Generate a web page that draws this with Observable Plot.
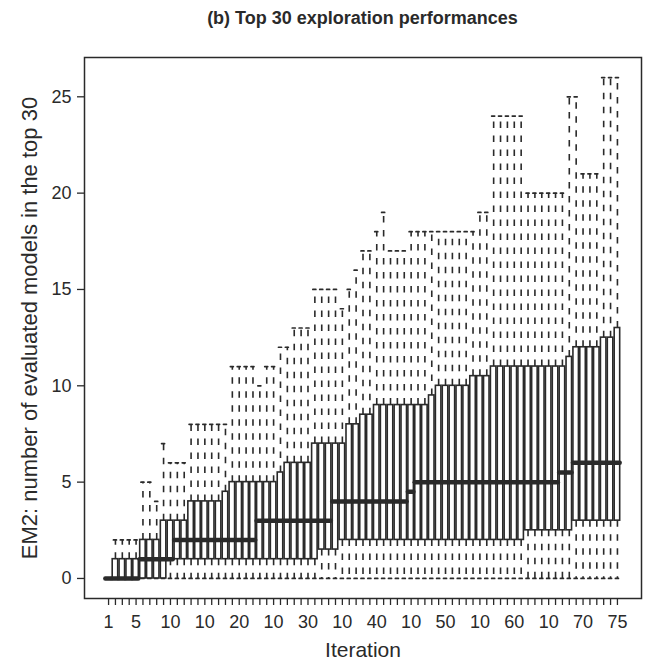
<!DOCTYPE html>
<html>
<head>
<meta charset="utf-8">
<script src="https://cdn.jsdelivr.net/npm/d3@7"></script>
<script src="https://cdn.jsdelivr.net/npm/@observablehq/plot@0.6"></script>
<style>
  html, body { margin: 0; padding: 0; background: #fff; }
  #chart { width: 646px; height: 665px; font-family: "Liberation Sans", Arial, Helvetica, sans-serif; color: #2a2a2a; }
  #title { box-sizing: border-box; height: 40px; padding: 0 5px 0 84px; text-align: center;
           font-weight: bold; font-size: 18px; line-height: 36px; }
  #chart svg { display: block; }
</style>
</head>
<body>
<div id="chart"><div id="title">(b) Top 30 exploration performances</div></div>
<script>
// Iterations 1..75 of the exploration run
const iterations = [
  1, 2, 3, 4, 5, 6, 7, 8, 9, 10, 11, 12, 13, 14, 15, 16, 17, 18, 19, 20, 21, 22, 23, 24, 25,
  26, 27, 28, 29, 30, 31, 32, 33, 34, 35, 36, 37, 38, 39, 40, 41, 42, 43, 44, 45, 46, 47, 48, 49, 50,
  51, 52, 53, 54, 55, 56, 57, 58, 59, 60, 61, 62, 63, 64, 65, 66, 67, 68, 69, 70, 71, 72, 73, 74, 75
];

// Five-number summaries per iteration (EM2: models in the top 30)
const lowerWhisker = [
  0, 0, 0, 0, 0, 0, 0, 0, 0, 0, 0, 0, 0, 0, 0, 0, 0, 0, 0, 0, 0, 0, 0, 0, 0,
  0, 0, 0, 0, 0, 0, 0, 0, 0, 0, 0, 0, 0, 0, 0, 0, 0, 0, 0, 0, 0, 0, 0, 0, 0,
  0, 0, 0, 0, 0, 0, 0, 0, 0, 0, 0, 0, 0, 0, 0, 0, 0, 0, 0, 0, 0, 0, 0, 0, 0
];
const lowerQuartile = [
  0, 0, 0, 0, 0, 0, 0, 0, 0, 1, 1, 1, 1, 1, 1, 1, 1, 1, 1, 1, 1, 1, 1, 1, 1,
  1, 1, 1, 1, 1, 1, 1.5, 1.5, 1.5, 2, 2, 2, 2, 2, 2, 2, 2, 2, 2, 2, 2, 2, 2, 2, 2,
  2, 2, 2, 2, 2, 2, 2, 2, 2, 2, 2, 2.5, 2.5, 2.5, 2.5, 2.5, 2.5, 2.5, 3, 3, 3, 3, 3, 3, 3
];
const medians = [
  0, 0, 0, 0, 0, 1, 1, 1, 1, 1, 2, 2, 2, 2, 2, 2, 2, 2, 2, 2, 2, 2, 3, 3, 3,
  3, 3, 3, 3, 3, 3, 3, 3, 4, 4, 4, 4, 4, 4, 4, 4, 4, 4, 4, 4.5, 5, 5, 5, 5, 5,
  5, 5, 5, 5, 5, 5, 5, 5, 5, 5, 5, 5, 5, 5, 5, 5, 5.5, 5.5, 6, 6, 6, 6, 6, 6, 6
];
const upperQuartile = [
  0, 1, 1, 1, 1, 2, 2, 2, 3, 3, 3, 3, 4, 4, 4, 4, 4, 4.5, 5, 5, 5, 5, 5, 5, 5,
  5.5, 6, 6, 6, 6, 7, 7, 7, 7, 7, 8, 8, 8.5, 8.5, 9, 9, 9, 9, 9, 9, 9, 9, 9.5, 10, 10,
  10, 10, 10, 10.5, 10.5, 10.5, 11, 11, 11, 11, 11, 11, 11, 11, 11, 11, 11, 11.5, 12, 12, 12, 12, 12.5, 12.5, 13
];
const upperWhisker = [
  0, 2, 2, 2, 2, 5, 5, 4, 7, 6, 6, 6, 8, 8, 8, 8, 8, 8, 11, 11, 11, 11, 10, 11, 11,
  12, 12, 13, 13, 13, 15, 15, 15, 15, 14, 15, 16, 17, 17, 18, 19, 17, 17, 17, 18, 18, 18, 18, 18, 18,
  18, 18, 18, 18, 19, 19, 24, 24, 24, 24, 24, 20, 20, 20, 20, 20, 20, 25, 25, 21, 21, 21, 26, 26, 26
];

// Axis ticks and labels
const xLabelIterations = [1, 5, 10, 15, 20, 25, 30, 35, 40, 45, 50, 55, 60, 65, 70, 75];
const xLabels = ["1", "5", "10", "10", "20", "10", "30", "10", "40", "10", "50", "10", "60", "10", "70", "75"];
const yTicks = [0, 5, 10, 15, 20, 25];
const xTitle = "Iteration";
const yTitle = "EM2: number of evaluated models in the top 30";

const rows = iterations.map((iteration, i) => ({
  iteration,
  min: lowerWhisker[i],
  q1: lowerQuartile[i],
  median: medians[i],
  q3: upperQuartile[i],
  max: upperWhisker[i]
}));
const xLabelMap = new Map(xLabelIterations.map((d, i) => [d, xLabels[i]]));

const ink = "#2a2a2a";
const boxHalf = 0.4;     // half of the box width, in iteration units
const stapleHalf = 0.22; // half of the whisker end cap
const dash = "6.5,7.5";

const chart = Plot.plot({
  width: 646,
  height: 625,
  marginLeft: 84,
  marginRight: 5,
  marginTop: 17,
  marginBottom: 67,
  style: {fontFamily: '"Liberation Sans", Arial, Helvetica, sans-serif', fontSize: "18px", color: ink, background: "white"},
  x: {type: "linear", domain: [-2.5, 78.5]},
  y: {domain: [-1.04, 27.04]},
  marks: [
    // dashed whiskers
    Plot.ruleX(rows, {x: "iteration", y1: "q3", y2: "max", stroke: ink, strokeWidth: 1.6, strokeDasharray: dash}),
    Plot.ruleX(rows, {x: "iteration", y1: "q1", y2: "min", stroke: ink, strokeWidth: 1.6, strokeDasharray: dash}),
    // whisker end caps
    Plot.ruleY(rows, {y: "max", x1: d => d.iteration - stapleHalf, x2: d => d.iteration + stapleHalf, stroke: ink, strokeWidth: 1.7, strokeLinecap: "round"}),
    Plot.ruleY(rows, {y: "min", x1: d => d.iteration - stapleHalf, x2: d => d.iteration + stapleHalf, stroke: ink, strokeWidth: 1.7, strokeLinecap: "round"}),
    // boxes
    Plot.rect(rows, {x1: d => d.iteration - boxHalf, x2: d => d.iteration + boxHalf, y1: "q1", y2: "q3", fill: "white", stroke: ink, strokeWidth: 1.6}),
    // medians
    Plot.ruleY(rows, {y: "median", x1: d => d.iteration - boxHalf, x2: d => d.iteration + boxHalf, stroke: ink, strokeWidth: 4.5, strokeLinecap: "round"}),
    Plot.frame({stroke: ink, strokeWidth: 1.5}),
    Plot.axisY({ticks: yTicks, tickSize: 7, tickPadding: 6, label: null, fontSize: 18, stroke: ink, strokeWidth: 1.3}),
    Plot.axisX({ticks: iterations, tickSize: 7, tickFormat: () => "", label: null, stroke: ink, strokeWidth: 1.3}),
    Plot.axisX({ticks: xLabelIterations, tickSize: 0, tickPadding: 17, tickFormat: d => xLabelMap.get(d), label: null, fontSize: 18}),
    Plot.text([xTitle], {text: d => d, frameAnchor: "bottom", dy: 58, fontSize: 21, fill: ink}),
    Plot.text([yTitle], {text: d => d, frameAnchor: "left", textAnchor: "middle", lineAnchor: "middle", dx: -55, rotate: -90, fontSize: 22, fill: ink})
  ]
});

document.getElementById("chart").append(chart);
</script>
</body>
</html>
